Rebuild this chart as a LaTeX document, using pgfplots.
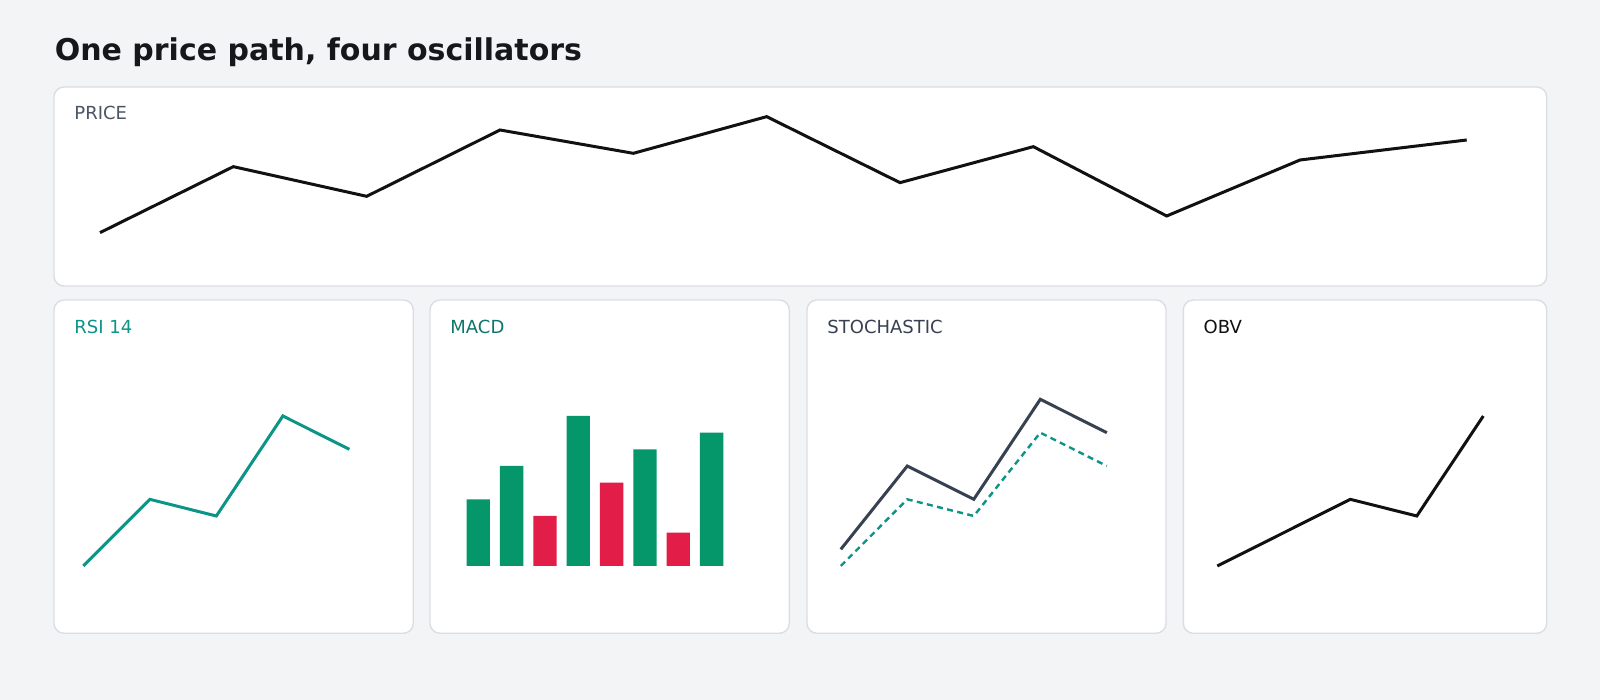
\documentclass[border=0pt]{standalone}
\usepackage{fontspec}
\setmainfont{DejaVu Sans}
\usepackage{pgfplots}
\pgfplotsset{compat=1.18}
\definecolor{bgcol}{HTML}{F3F4F6}
\definecolor{panelborder}{HTML}{D9DEE5}
\definecolor{titlecol}{HTML}{15171A}
\definecolor{pricelab}{HTML}{4B5563}
\definecolor{teal}{HTML}{0D9488}
\definecolor{tealdark}{HTML}{0F766E}
\definecolor{slate}{HTML}{374151}
\definecolor{ink}{HTML}{111111}
\definecolor{obvlab}{HTML}{111111}
\definecolor{upgreen}{HTML}{059669}
\definecolor{downred}{HTML}{E11D48}
\pgfplotsset{
  panel/.style={
    scale only axis,
    anchor=south west,
    axis line style={draw=none},
    xtick=\empty, ytick=\empty,
    axis background/.style={fill=white, draw=panelborder, line width=0.7pt, rounded corners=5pt},
    clip=false,
  },
}
\begin{document}
\begin{tikzpicture}
\useasboundingbox (0,0) rectangle (800pt,350pt);
\fill[bgcol] (0,0) rectangle (800pt,350pt);
\node[anchor=base west, inner sep=0pt, text=titlecol, font=\fontsize{15}{18}\selectfont\bfseries] at (27.2pt,319.75pt) {One price path, four oscillators};

% PRICE
\begin{axis}[panel, at={(27pt,207pt)}, width=746.35pt, height=99.5pt,
  xmin=-0.345, xmax=10.85, ymin=84.0, ymax=143.7]
\addplot[ink, line width=1.5pt] coordinates {
 (0,100.0) (1,119.8) (2,110.9) (3,130.8) (4,123.8) (5,134.8)
 (6,115.0) (7,125.8) (8,105.0) (9,121.8) (10.25,127.8)};
\end{axis}

% RSI 14
\begin{axis}[panel, at={(27pt,33.35pt)}, width=179.65pt, height=166.65pt,
  xmin=-0.44, xmax=4.96, ymin=9.81, ymax=109.8]
\addplot[teal, line width=1.5pt] coordinates {(0,30) (1,50) (2,45) (3,75) (4,65)};
\end{axis}

% MACD
\begin{axis}[panel, at={(215pt,33.35pt)}, width=179.65pt, height=166.65pt,
  xmin=-1.449, xmax=9.331, ymin=-20.2, ymax=79.8]
\addplot[ybar, bar width=0.70, bar shift=0pt, fill=upgreen, draw=none]
  coordinates {(0,20) (1,30) (3,45) (5,35) (7,40)};
\addplot[ybar, bar width=0.70, bar shift=0pt, fill=downred, draw=none]
  coordinates {(2,15) (4,25) (6,10)};
\end{axis}

% STOCHASTIC
\begin{axis}[panel, at={(403.5pt,33.35pt)}, width=179.5pt, height=166.65pt,
  xmin=-0.508, xmax=4.89, ymin=9.81, ymax=109.8]
\addplot[slate, line width=1.5pt] coordinates {(0,35) (1,60) (2,50) (3,80) (4,70)};
\addplot[teal, line width=1.2pt, dash pattern=on 3pt off 2.2pt] coordinates {(0,30) (1,50) (2,45) (3,70) (4,60)};
\end{axis}

% OBV
\begin{axis}[panel, at={(591.65pt,33.35pt)}, width=181.7pt, height=166.65pt,
  xmin=-0.511, xmax=4.953, ymin=9.81, ymax=109.8]
\addplot[ink, line width=1.5pt] coordinates {(0,30) (2,50) (3,45) (4,75)};
\end{axis}

\begin{scope}[every node/.style={anchor=base west, inner sep=0pt, font=\fontsize{9}{11}\selectfont}]
\node[text=pricelab] at (37pt,290pt) {PRICE};
\node[text=teal] at (37pt,183.35pt) {RSI 14};
\node[text=tealdark] at (225pt,183.35pt) {MACD};
\node[text=slate] at (413.5pt,183.35pt) {STOCHASTIC};
\node[text=obvlab] at (601.65pt,183.35pt) {OBV};
\end{scope}
\end{tikzpicture}
\end{document}
